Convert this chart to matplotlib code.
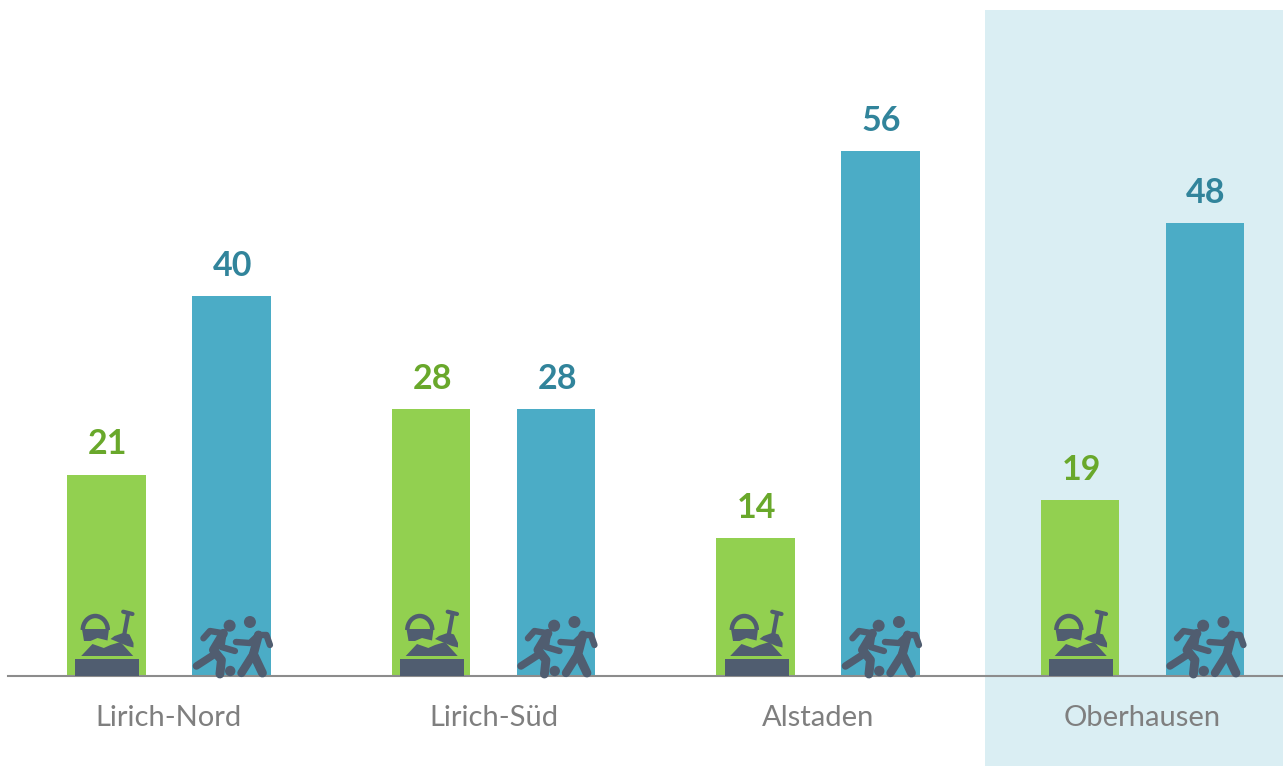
import matplotlib
matplotlib.use("Agg")
import matplotlib.pyplot as plt
from matplotlib.patches import Arc, Circle, Polygon, Rectangle
from matplotlib.transforms import Affine2D

districts = ["Lirich-Nord", "Lirich-Süd", "Alstaden", "Oberhausen"]
playground_heights = [21.2, 28.1, 14.5, 18.5]
sports_heights = [40.0, 28.1, 55.3, 47.7]
playground_labels = ["21", "28", "14", "19"]
sports_labels = ["40", "28", "56", "48"]

GREEN = "#92D050"
BLUE = "#4BACC6"
GREEN_TEXT = "#69A82B"
BLUE_TEXT = "#31849B"
BAND = "#DAEEF3"
AXIS = "#8C8C8C"
LABEL = "#7F7F7F"
ICON = "#505D70"

plt.rcParams["font.family"] = ["Lato", "DejaVu Sans"]

W, H = 1283, 766
fig = plt.figure(figsize=(W / 100, H / 100), dpi=100)
ax = fig.add_axes([8 / W, (H - 676) / H, (W - 8) / W, 676 / H])
ax.set_xlim(-0.496, 3.433)
ax.set_ylim(0, 71.16)
ax.patch.set_alpha(0)
for side in ["top", "right", "left"]:
    ax.spines[side].set_visible(False)
ax.spines["bottom"].set_color(AXIS)
ax.spines["bottom"].set_linewidth(1.5)
ax.spines["bottom"].set_zorder(4)
ax.set_yticks([])

# highlighted last district, runs below the axis
fig.add_artist(Rectangle((985 / W, 0), (W - 985) / W, (H - 10) / H,
                         transform=fig.transFigure, color=BAND, lw=0, zorder=-5))

offset = 0.1925
bar_w = 0.243
xs = list(range(len(districts)))
ax.bar([x - offset for x in xs], playground_heights, bar_w, color=GREEN, zorder=2)
ax.bar([x + offset for x in xs], sports_heights, bar_w, color=BLUE, zorder=2)

for x, h, s in zip(xs, playground_heights, playground_labels):
    ax.annotate(s, (x - offset, h), xytext=(0.8, 14.5), textcoords="offset points", ha="center",
                va="baseline", fontsize=24.5, fontweight="bold", color=GREEN_TEXT)
for x, h, s in zip(xs, sports_heights, sports_labels):
    ax.annotate(s, (x + offset, h), xytext=(0.8, 14.5), textcoords="offset points", ha="center",
                va="baseline", fontsize=24.5, fontweight="bold", color=BLUE_TEXT)

ax.set_xticks(xs)
ax.set_xticklabels(districts, fontsize=21, color=LABEL)
ax.tick_params(axis="x", length=0, pad=21)


# icons are drawn in pixels around the foot of each bar
def sandbox_icon(cx):
    px, py = ax.transData.transform((cx, 0))
    t = Affine2D().translate(px + 1, py)
    parts = [
        Rectangle((-32, 0), 64, 16.7, color=ICON, lw=0),
        Polygon([(-26.3, 20), (-15, 32), (-3.7, 28), (3, 31), (13, 34), (25.7, 20)],
                color=ICON, lw=0),
        Polygon([(-25.5, 47), (1.5, 47), (0, 35.5), (-10, 38), (-17, 35), (-23.5, 35)],
                color=ICON, lw=0),
        Arc((-12.2, 46), 25, 28, theta1=0, theta2=180, color=ICON, lw=3.2),
        Polygon([(16.3, 43.3), (22, 41.5), (26, 33), (26, 28.5), (20, 30), (3, 37), (7, 40)],
                color=ICON, lw=0),
    ]
    for p in parts:
        p.set_transform(t)
        p.set_clip_on(False)
        p.set_zorder(3)
        fig.add_artist(p)
    for xy in ([(20.7, 62.7), (17, 42.7)], [(15.7, 64.3), (25, 62)]):
        line = plt.Line2D(*zip(*xy), color=ICON, lw=3, solid_capstyle="round", transform=t, zorder=3)
        fig.add_artist(line)


def players_icon(cx):
    px, py = ax.transData.transform((cx, 0))
    t = Affine2D().translate(px, py)
    for center, r in [((-1.8, 50.3), 6), ((18.5, 54), 6), ((-1.2, 5), 5.2)]:
        fig.add_artist(Circle(center, r, color=ICON, lw=0, transform=t, zorder=3))
    strokes = [
        ([(-28, 37.7), (-21.5, 45), (-8, 42.7)], 4.6),
        ([(-8, 42.7), (-18, 26), (-10, 16), (-11.5, 2)], 6.4),
        ([(-8, 42.7), (-10, 29), (3.5, 25)], 4.6),
        ([(-18, 21), (-35, 10)], 5.4),
        ([(27, 41), (22, 22), (31, 3)], 6.4),
        ([(22, 22), (10, 3)], 6),
        ([(27, 41), (18.5, 33), (4.5, 34)], 4.6),
        ([(27, 41), (35, 41), (38.5, 31)], 4.6),
    ]
    for s, lw in strokes:
        fig.add_artist(plt.Line2D(*zip(*s), color=ICON, lw=lw, solid_capstyle="round",
                                  solid_joinstyle="round", transform=t, zorder=3))


for x in xs:
    sandbox_icon(x - offset)
    players_icon(x + offset)

fig.savefig("out.png", dpi=100)
